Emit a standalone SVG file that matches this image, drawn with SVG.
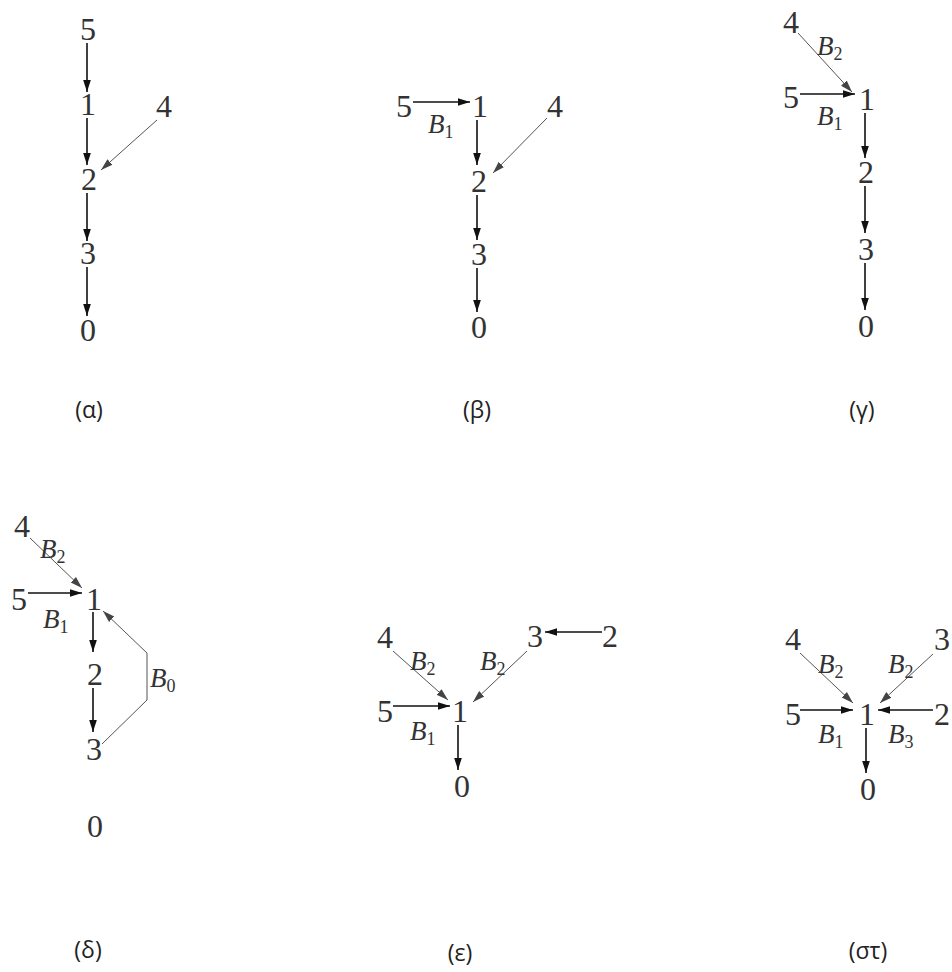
<svg xmlns="http://www.w3.org/2000/svg" width="952" height="972" viewBox="0 0 952 972">
<defs>
<marker id="ab" markerUnits="userSpaceOnUse" markerWidth="12" markerHeight="10" viewBox="0 0 12 10" refX="12" refY="5" orient="auto"><path d="M0,1.2 L12,5 L0,8.8 Z" fill="#111"/></marker>
<marker id="ag" markerUnits="userSpaceOnUse" markerWidth="12" markerHeight="10" viewBox="0 0 12 10" refX="12" refY="5" orient="auto"><path d="M0,1.2 L12,5 L0,8.8 Z" fill="#444"/></marker>
</defs>
<style>
.n{font-family:'Liberation Serif','Times New Roman',serif;font-size:32px;fill:#333;text-anchor:middle}
.b{font-family:'Liberation Serif','Times New Roman',serif;font-size:27px;font-style:italic;fill:#333}
.s{font-size:18px;font-style:normal}
.c{font-family:'Open Sans','Liberation Sans',sans-serif;font-size:23px;fill:#222;text-anchor:middle}
.e{stroke:#111;stroke-width:1.6;fill:none;marker-end:url(#ab)}
.g{stroke:#555;stroke-width:1;fill:none;marker-end:url(#ag)}
</style>
<rect width="952" height="972" fill="#fff"/>
<g id="connectors">
<line class="e" x1="87" y1="43" x2="87" y2="92"/>
<line class="e" x1="87" y1="118" x2="87" y2="165"/>
<line class="e" x1="87" y1="193" x2="87" y2="241"/>
<line class="e" x1="87" y1="267" x2="87" y2="316"/>
<line class="g" x1="157" y1="120" x2="101" y2="170"/>
<line class="e" x1="413" y1="102" x2="470" y2="102"/>
<line class="e" x1="477" y1="120" x2="477" y2="165"/>
<line class="e" x1="477" y1="195" x2="477" y2="240"/>
<line class="e" x1="477" y1="268" x2="477" y2="312"/>
<line class="g" x1="547" y1="118" x2="493" y2="173"/>
<line class="g" x1="798" y1="33" x2="852" y2="92"/>
<line class="e" x1="800" y1="94" x2="855" y2="94"/>
<line class="e" x1="865" y1="113" x2="865" y2="158"/>
<line class="e" x1="865" y1="186" x2="865" y2="233"/>
<line class="e" x1="865" y1="263" x2="865" y2="310"/>
<line class="g" x1="30" y1="538" x2="82" y2="588"/>
<line class="e" x1="28" y1="593" x2="82" y2="593"/>
<line class="e" x1="93" y1="612" x2="93" y2="652"/>
<line class="e" x1="93" y1="688" x2="93" y2="732"/>
<polyline class="g" points="102,744 147,700 147,653 103,611"/>
<line class="g" x1="393" y1="651" x2="448" y2="700"/>
<line class="e" x1="393" y1="706" x2="450" y2="706"/>
<line class="g" x1="527" y1="651" x2="473" y2="702"/>
<line class="e" x1="602" y1="632" x2="545" y2="632"/>
<line class="e" x1="458" y1="725" x2="458" y2="770"/>
<line class="g" x1="800" y1="653" x2="853" y2="703"/>
<line class="e" x1="800" y1="710" x2="853" y2="710"/>
<line class="g" x1="933" y1="654" x2="880" y2="703"/>
<line class="e" x1="933" y1="710" x2="878" y2="710"/>
<line class="e" x1="866" y1="728" x2="866" y2="773"/>
</g>
<g id="panel-a">
<text class="n" x="88" y="40">5</text>
<text class="n" x="88" y="115">1</text>
<text class="n" x="164" y="117">4</text>
<text class="n" x="89" y="190">2</text>
<text class="n" x="88" y="264">3</text>
<text class="n" x="88" y="341">0</text>
<text class="c" x="89" y="418">(α)</text>
</g>
<g id="panel-b">
<text class="n" x="404" y="117">5</text>
<text class="n" x="480" y="117">1</text>
<text class="b" x="428" y="133">B<tspan class="s" dy="5">1</tspan></text>
<text class="n" x="555" y="117">4</text>
<text class="n" x="479" y="192">2</text>
<text class="n" x="479" y="265">3</text>
<text class="n" x="479" y="338">0</text>
<text class="c" x="477" y="418">(β)</text>
</g>
<g id="panel-c">
<text class="n" x="791" y="33">4</text>
<text class="b" x="817" y="55">B<tspan class="s" dy="5">2</tspan></text>
<text class="n" x="791" y="108">5</text>
<text class="n" x="867" y="110">1</text>
<text class="b" x="817" y="125">B<tspan class="s" dy="5">1</tspan></text>
<text class="n" x="866" y="183">2</text>
<text class="n" x="866" y="260">3</text>
<text class="n" x="866" y="337">0</text>
<text class="c" x="862" y="418">(γ)</text>
</g>
<g id="panel-d">
<text class="n" x="22" y="537">4</text>
<text class="b" x="40" y="558">B<tspan class="s" dy="5">2</tspan></text>
<text class="n" x="19" y="610">5</text>
<text class="n" x="94" y="610">1</text>
<text class="b" x="43" y="628">B<tspan class="s" dy="5">1</tspan></text>
<text class="n" x="95" y="685">2</text>
<text class="n" x="94" y="760">3</text>
<text class="b" x="150" y="687">B<tspan class="s" dy="5">0</tspan></text>
<text class="n" x="95" y="837">0</text>
<text class="c" x="88" y="958">(δ)</text>
</g>
<g id="panel-e">
<text class="n" x="385" y="648">4</text>
<text class="b" x="410" y="670">B<tspan class="s" dy="5">2</tspan></text>
<text class="n" x="385" y="722">5</text>
<text class="n" x="460" y="722">1</text>
<text class="b" x="410" y="740">B<tspan class="s" dy="5">1</tspan></text>
<text class="n" x="535" y="647">3</text>
<text class="b" x="480" y="670">B<tspan class="s" dy="5">2</tspan></text>
<text class="n" x="610" y="647">2</text>
<text class="n" x="462" y="797">0</text>
<text class="c" x="460" y="961">(ε)</text>
</g>
<g id="panel-f">
<text class="n" x="793" y="650">4</text>
<text class="b" x="818" y="673">B<tspan class="s" dy="5">2</tspan></text>
<text class="n" x="793" y="725">5</text>
<text class="n" x="867" y="725">1</text>
<text class="b" x="818" y="743">B<tspan class="s" dy="5">1</tspan></text>
<text class="n" x="942" y="650">3</text>
<text class="b" x="888" y="673">B<tspan class="s" dy="5">2</tspan></text>
<text class="n" x="942" y="725">2</text>
<text class="b" x="888" y="743">B<tspan class="s" dy="5">3</tspan></text>
<text class="n" x="868" y="800">0</text>
<text class="c" x="868" y="959">(στ)</text>
</g>
</svg>
